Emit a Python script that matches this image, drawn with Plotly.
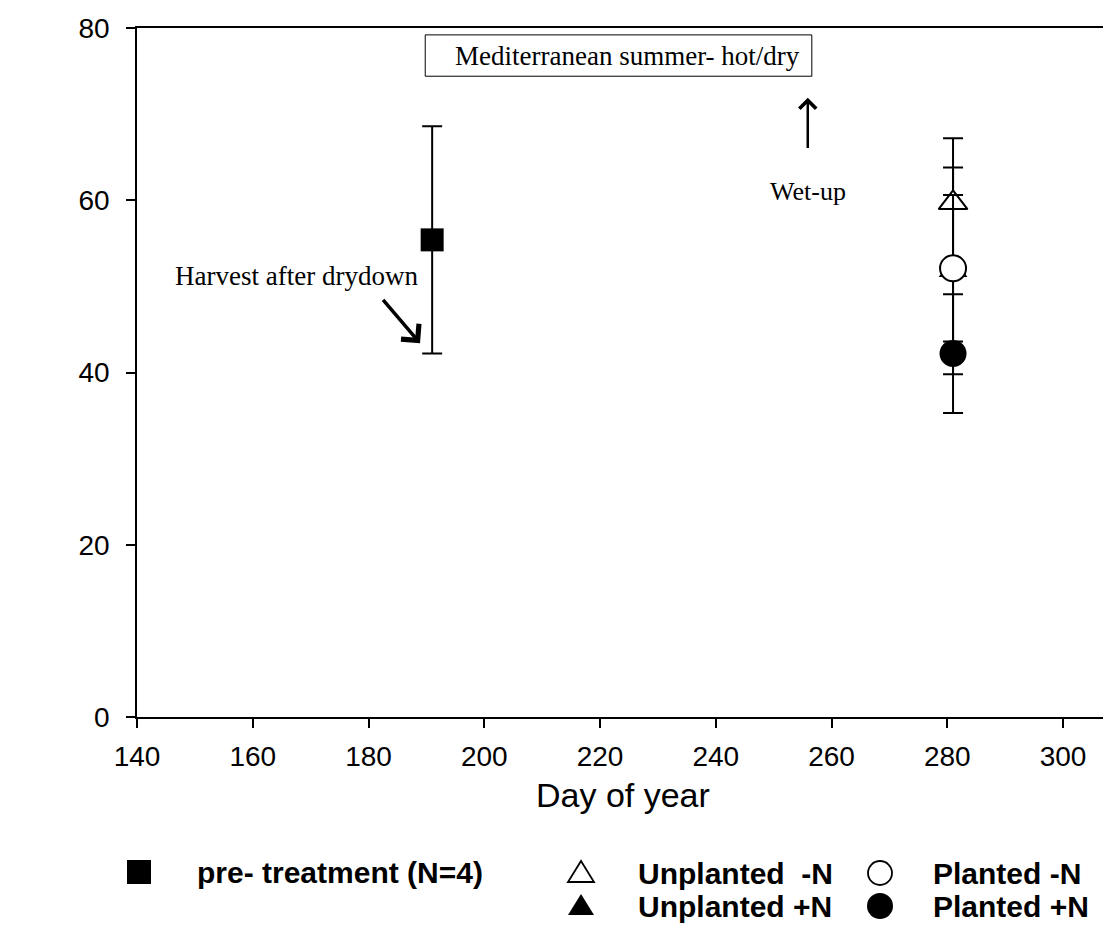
import plotly.graph_objects as go

# ---- data ----
pre_day = [191]
pre_mean = [55.4]
pre_err = [13.2]

post_day = [281]
unplanted_minusN = [59.7]
unplanted_minusN_err = [7.5]
unplanted_plusN = [51.8]
unplanted_plusN_err = [12.0]
planted_minusN = [52.1]
planted_minusN_err = [8.5]
planted_plusN = [42.2]
planted_plusN_err = [6.9]

x_ticks = [140, 160, 180, 200, 220, 240, 260, 280, 300]
y_ticks = [0, 20, 40, 60, 80]

# page body offset of the html page (8 px)
OFF = 8
W, H = 1111, 930
ML, MR, MT = 137 - OFF, 0, 28 - OFF
MB = H - (717 - OFF)
PW, PH = W - ML - MR, H - MT - MB


def px(xs):
    """screen x (pixels) -> paper x"""
    return (xs - OFF - ML) / PW


def py(ys):
    """screen y (pixels) -> paper y"""
    return (H - MB - (ys - OFF)) / PH


SANS = "Liberation Sans, Arial, sans-serif"
SERIF = "Liberation Serif, Times New Roman, serif"

fig = go.Figure()


def err(v):
    return dict(type="data", array=v, visible=True, color="black", thickness=2, width=10)


fig.add_trace(go.Scatter(x=pre_day, y=pre_mean, mode="markers", error_y=err(pre_err),
                         marker=dict(symbol="square", size=23, color="black"),
                         name="pre- treatment (N=4)"))
fig.add_trace(go.Scatter(x=post_day, y=unplanted_plusN, mode="markers", error_y=err(unplanted_plusN_err),
                         marker=dict(symbol="triangle-up", size=25, color="black"),
                         name="Unplanted +N"))
fig.add_trace(go.Scatter(x=post_day, y=unplanted_minusN, mode="markers", error_y=err(unplanted_minusN_err),
                         marker=dict(symbol="triangle-up", size=25, color="white",
                                     line=dict(color="black", width=2)),
                         name="Unplanted -N"))
fig.add_trace(go.Scatter(x=post_day, y=planted_minusN, mode="markers", error_y=err(planted_minusN_err),
                         marker=dict(symbol="circle", size=26, color="white",
                                     line=dict(color="black", width=2)),
                         name="Planted -N"))
fig.add_trace(go.Scatter(x=post_day, y=planted_plusN, mode="markers", error_y=err(planted_plusN_err),
                         marker=dict(symbol="circle", size=27, color="black"),
                         name="Planted +N"))

# box annotation
fig.add_shape(type="rect", xref="x", yref="y", x0=189.8, x1=256.6, y0=74.4, y1=79.2,
              line=dict(color="black", width=1), fillcolor="white")

annotations = [
    dict(x=224.8, y=76.7, xref="x", yref="y", text="Mediterranean summer- hot/dry",
         showarrow=False, xanchor="center", yanchor="middle",
         font=dict(family=SERIF, size=27, color="black")),
    dict(x=255.9, y=61.0, xref="x", yref="y", text="Wet-up",
         showarrow=False, xanchor="center", yanchor="middle",
         font=dict(family=SERIF, size=26, color="black")),
    dict(x=167.5, y=51.2, xref="x", yref="y", text="Harvest after drydown",
         showarrow=False, xanchor="center", yanchor="middle",
         font=dict(family=SERIF, size=27, color="black")),
    # arrows
    dict(x=255.9, y=71.9, ax=255.9, ay=65.9, xref="x", yref="y", axref="x", ayref="y",
         text="", showarrow=True, arrowhead=4, arrowsize=1.3, arrowwidth=2.5,
         arrowcolor="black", standoff=0, startstandoff=0),
    dict(x=188.9, y=43.4, ax=182.3, ay=48.6, xref="x", yref="y", axref="x", ayref="y",
         text="", showarrow=True, arrowhead=4, arrowsize=1.3, arrowwidth=3.5,
         arrowcolor="black", standoff=0, startstandoff=0),
    # x-axis title
    dict(x=px(623), y=py(795), xref="paper", yref="paper", text="Day of year",
         showarrow=False, xanchor="center", yanchor="middle",
         font=dict(family=SANS, size=34, color="black")),
]

# legend: symbols as pixel-sized shapes, labels as text
leg_font = dict(family=SANS, size=30, color="black")
TRI = "M-13,-9 L13,-9 L0,12 Z"
legend_items = [
    ("square", True, 139, 872, "<b>pre- treatment (N=4)</b>", 195),
    ("triangle", False, 581, 873, "<b>Unplanted\u00a0 -N</b>", 636),
    ("circle", False, 880, 873, "<b>Planted -N</b>", 931),
    ("triangle", True, 581, 906, "<b>Unplanted +N</b>", 636),
    ("circle", True, 880, 906, "<b>Planted +N</b>", 931),
]
shapes = []
for kind, filled, sx, sy, label, tx in legend_items:
    common = dict(xref="paper", yref="paper", xsizemode="pixel", ysizemode="pixel",
                  xanchor=px(sx), yanchor=py(sy),
                  fillcolor="black" if filled else "white",
                  line=dict(color="black", width=0 if filled else 1.8))
    if kind == "square":
        shapes.append(dict(type="rect", x0=-12, x1=12, y0=-12, y1=12, **common))
    elif kind == "circle":
        r = 13 if filled else 12
        shapes.append(dict(type="circle", x0=-r, x1=r, y0=-r, y1=r, **common))
    else:
        shapes.append(dict(type="path", path=TRI, **common))
    annotations.append(dict(x=px(tx), y=py(sy), xref="paper", yref="paper", text=label,
                            showarrow=False, font=leg_font, xanchor="left", yanchor="middle"))

for s in shapes:
    fig.add_shape(**s)

fig.update_layout(
    width=W, height=H,
    margin=dict(l=ML, r=MR, t=MT, b=MB, pad=0),
    plot_bgcolor="white", paper_bgcolor="white",
    showlegend=False,
    annotations=annotations,
    xaxis=dict(range=[140, 140 + PW / 5.7875], tickvals=x_ticks, ticks="outside", ticklen=9,
               tickwidth=1.5, tickcolor="black", showline=True, linecolor="black", linewidth=1.5,
               mirror=True, showgrid=False, zeroline=False, ticklabelstandoff=5,
               tickfont=dict(family=SANS, size=28, color="black")),
    yaxis=dict(range=[0, 80], tickvals=y_ticks, ticks="outside", ticklen=9,
               tickwidth=1.5, tickcolor="black", showline=True, linecolor="black", linewidth=1.5,
               showgrid=False, zeroline=False, ticklabelstandoff=11,
               tickfont=dict(family=SANS, size=28, color="black")),
)

fig.write_html("out.html")
